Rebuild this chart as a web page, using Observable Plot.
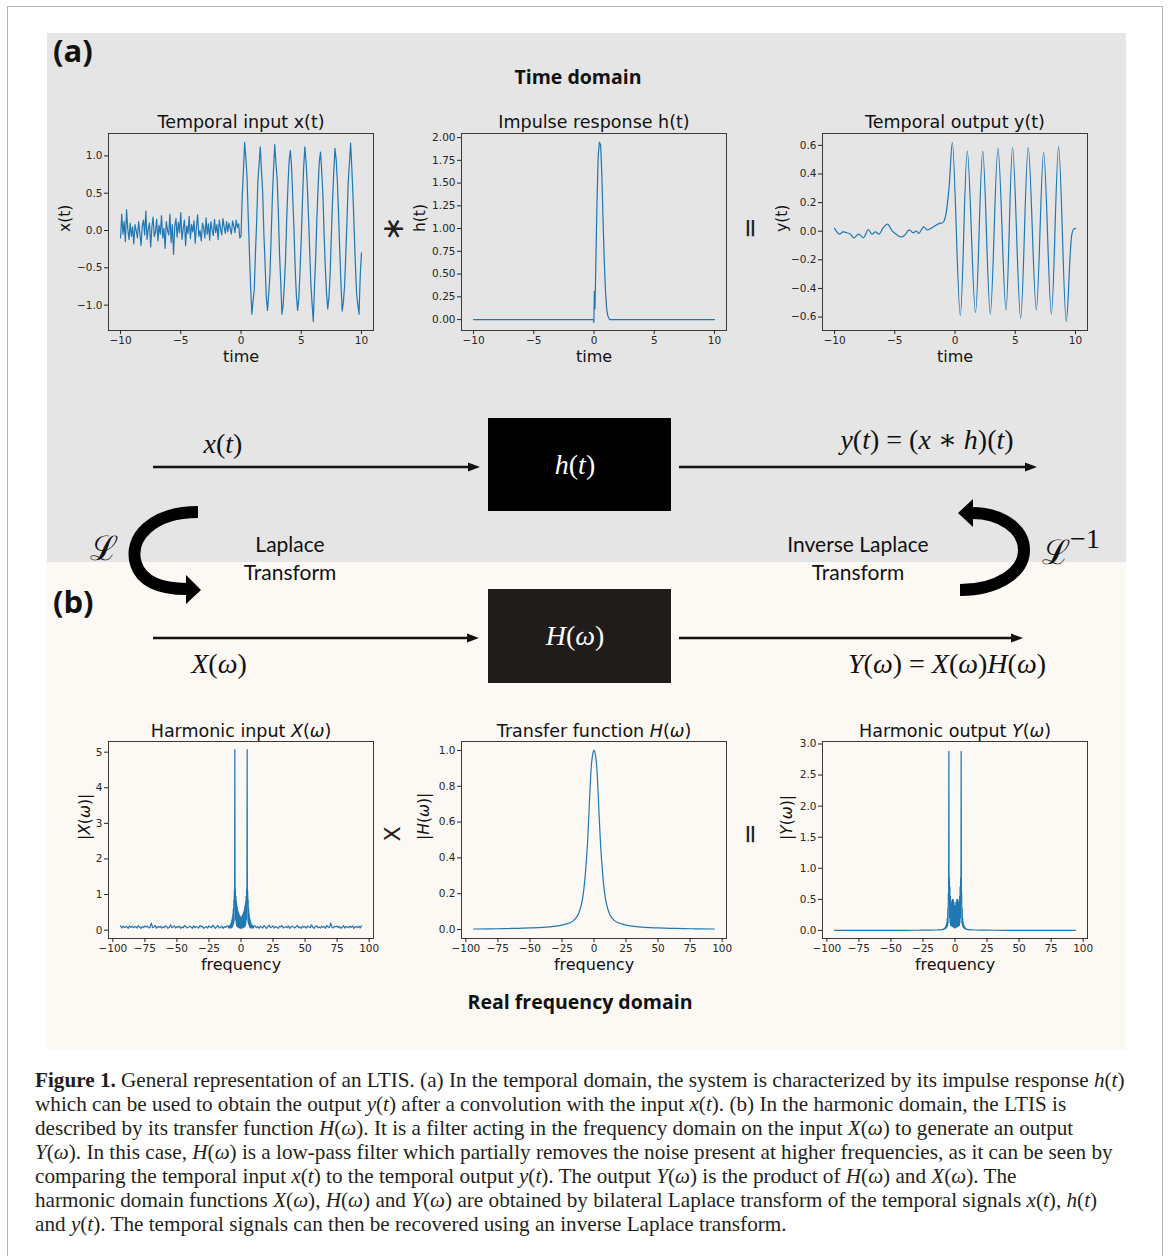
<!DOCTYPE html>
<html><head><meta charset="utf-8">
<script src="https://cdn.jsdelivr.net/npm/d3@7"></script>
<script src="https://cdn.jsdelivr.net/npm/@observablehq/plot@0.6"></script>
<style>
body{margin:0;background:#fff;}
#root{position:relative;width:1168px;height:1256px;overflow:hidden;font-family:"DejaVu Sans";color:#222;}
.lbl{position:absolute;white-space:nowrap;transform:translate(-50%,-50%);line-height:1;}
.lblL{position:absolute;white-space:nowrap;transform:translate(0,-50%);line-height:1;}
.math{font-family:"Liberation Serif","DejaVu Serif",serif;}
.math i{font-style:italic;}
.cap{position:absolute;left:35px;white-space:nowrap;transform:translate(0,-50%);font-family:"Liberation Serif",serif;color:#231f20;line-height:1;}
</style></head><body><div id="root"></div>
<script>
// ---------------- DATA ----------------
// x(t): sampled from t = -10 to 10, step 0.1 (201 samples)
const xtStart = -10, xtStep = 0.1;
const xtValues = [
 -0.10, 0.22, -0.05, 0.12, -0.15, 0.28, 0.02, -0.12, 0.10, -0.08,
 0.05, -0.18, 0.08, 0.00, -0.10, 0.12, -0.03, -0.20, 0.06, 0.14,
 -0.06, 0.26, -0.12, 0.02, 0.10, -0.22, 0.04, 0.18, -0.08, -0.02,
 0.15, -0.14, 0.07, -0.05, 0.20, -0.10, 0.03, -0.24, 0.12, 0.00,
 -0.06, 0.22, -0.16, 0.08, -0.32, 0.05, 0.16, -0.09, 0.11, -0.03,
 0.24, -0.12, 0.02, 0.14, -0.20, 0.06, -0.04, 0.19, -0.11, 0.08,
 -0.02, 0.13, -0.17, 0.05, 0.21, -0.08, 0.00, -0.14, 0.10, 0.04,
 -0.10, 0.17, -0.05, 0.09, -0.13, 0.12, 0.01, -0.07, 0.15, -0.03,
 0.08, -0.12, 0.14, 0.02, -0.06, 0.16, 0.05, -0.04, 0.12, -0.02,
 0.10, 0.03, -0.05, 0.13, 0.06, -0.03, 0.14, 0.04, 0.09, -0.10,
 -0.08, 0.45, 0.80, 1.18, 0.98, 0.72, 0.18, -0.30, -0.75, -1.12,
 -0.95, -0.80, -0.30, 0.12, 0.66, 0.88, 1.12, 0.80, 0.52, -0.05,
 -0.45, -0.90, -1.07, -0.85, -0.60, -0.10, 0.42, 0.82, 1.15, 0.90,
 0.70, 0.25, -0.32, -0.70, -1.12, -1.00, -0.72, -0.38, 0.18, 0.60,
 0.95, 1.07, 0.85, 0.42, 0.02, -0.52, -0.88, -1.07, -0.92, -0.55,
 -0.12, 0.38, 0.84, 1.12, 0.92, 0.62, 0.20, -0.25, -0.72, -0.98,
 -1.22, -0.76, -0.36, 0.16, 0.58, 0.92, 1.05, 0.80, 0.48, -0.05,
 -0.50, -0.84, -1.05, -0.90, -0.58, -0.08, 0.40, 0.78, 1.10, 0.95,
 0.66, 0.22, -0.28, -0.72, -1.08, -0.96, -0.74, -0.32, 0.14, 0.64,
 0.90, 1.17, 0.84, 0.45, 0.00, -0.48, -0.85, -1.00, -1.12, -0.60,
 -0.30
];
// h(t)
const htTimes  = [-10, -0.05, -0.01, 0.03, 0.08, 0.15, 0.25, 0.35, 0.45, 0.55, 0.65, 0.75, 0.85, 0.95, 1.05, 1.15, 1.3, 10];
const htValues = [0, 0, -0.03, 0.31, 0.12, 0.60, 1.30, 1.80, 1.95, 1.92, 1.60, 1.10, 0.65, 0.32, 0.12, 0.04, 0.0, 0];
// y(t): read at wiggles and extrema
const ytTimes  = [-10, -9.6, -9.3, -9.0, -8.7, -8.4, -8.0, -7.6, -7.2, -6.9, -6.6, -6.3, -6.0, -5.6, -5.2, -4.9, -4.5, -4.2, -3.8, -3.5, -3.2, -3.0, -2.6, -2.3, -1.8, -1.3, -1.0, -0.8, -0.5, -0.22, 0.44, 1.02, 1.70, 2.30, 2.93, 3.57, 4.23, 4.78, 5.45, 6.08, 6.75, 7.36, 8.0, 8.6, 9.24, 9.7, 9.85, 10];
const ytValues = [0.02, -0.02, -0.005, -0.01, -0.02, -0.047, -0.02, -0.045, 0.012, -0.02, -0.005, -0.02, 0.02, 0.05, 0.0, -0.02, -0.04, -0.03, 0.01, -0.01, 0.0, -0.015, 0.03, 0.01, 0.03, 0.055, 0.06, 0.10, 0.30, 0.62, -0.59, 0.56, -0.57, 0.56, -0.58, 0.58, -0.55, 0.585, -0.61, 0.585, -0.55, 0.55, -0.58, 0.59, -0.63, -0.02, 0.015, 0.02];
// |X(ω)| for ω >= 0 (magnitude spectrum of a real signal is symmetric)
const XwCenterStep = 0.2; // ω = 0 .. 10
const XwCenter = [0.33, 0.05, 0.36, 0.08, 0.40, 0.06, 0.42, 0.10, 0.46, 0.07, 0.50, 0.12, 0.55, 0.09, 0.62, 0.15, 0.70, 0.12, 0.80, 0.20, 0.95, 0.30, 1.15, 0.80, 5.07, 0.90, 1.10, 0.25, 0.85, 0.18, 0.60, 0.15, 0.45, 0.10, 0.35, 0.08, 0.28, 0.07, 0.22, 0.06, 0.18, 0.08, 0.15, 0.06, 0.13, 0.07, 0.12, 0.06, 0.11, 0.07, 0.10];
const XwTailStart = 11; // ω = 11 .. 94, step 1
const XwTail = [
 0.12,0.07,0.10,0.05,0.11,0.08,0.06,0.13,0.09,0.05,
 0.10,0.14,0.07,0.09,0.12,0.06,0.10,0.08,0.05,0.11,
 0.09,0.13,0.06,0.08,0.10,0.07,0.12,0.05,0.09,0.11,
 0.08,0.06,0.10,0.13,0.07,0.09,0.05,0.11,0.08,0.10,
 0.06,0.12,0.09,0.07,0.15,0.08,0.05,0.10,0.12,0.07,
 0.09,0.06,0.11,0.08,0.10,0.05,0.13,0.09,0.07,0.20,
 0.08,0.06,0.11,0.09,0.12,0.07,0.10,0.05,0.08,0.13,
 0.06,0.10,0.09,0.07,0.11,0.08,0.12,0.05,0.09,0.10,
 0.07,0.11,0.06,0.12];
// |H(ω)| for ω >= 0
const HwFreq = [0,1,2,3,4,5,6,7,8,9,10,12,14,16,18,20,25,30,40,50,60,70,80,94];
const HwVals = [1.0,0.98,0.92,0.80,0.64,0.49,0.38,0.29,0.22,0.17,0.135,0.09,0.065,0.05,0.041,0.035,0.025,0.019,0.012,0.009,0.007,0.005,0.004,0.003];
// |Y(ω)| for ω >= 0
const YwCenterStep = 0.2;
const YwCenter = [0.38, 0.04, 0.40, 0.06, 0.45, 0.05, 0.48, 0.08, 0.50, 0.06, 0.50, 0.09, 0.48, 0.07, 0.45, 0.10, 0.42, 0.08, 0.55, 0.12, 0.70, 0.20, 0.85, 0.50, 2.88, 0.55, 0.60, 0.12, 0.35, 0.08, 0.20, 0.06, 0.13, 0.05, 0.09, 0.04, 0.07, 0.03, 0.05, 0.03, 0.04, 0.025, 0.03, 0.02, 0.025, 0.018, 0.02, 0.015, 0.017, 0.013, 0.014];
const YwTailFreq = [11,12,14,16,20,25,30,40,50,60,70,80,94];
const YwTailVals = [0.012,0.010,0.008,0.007,0.005,0.004,0.003,0.002,0.002,0.0015,0.001,0.001,0.001];

const timeTicks = [-10,-5,0,5,10];
const freqTicks = [-100,-75,-50,-25,0,25,50,75,100];
const xtTicks = [-1.0,-0.5,0.0,0.5,1.0];
const htTicks = [0,0.25,0.5,0.75,1.0,1.25,1.5,1.75,2.0];
const ytTicks = [-0.6,-0.4,-0.2,0,0.2,0.4,0.6];
const XwTicks = [0,1,2,3,4,5];
const HwTicks = [0,0.2,0.4,0.6,0.8,1.0];
const YwTicks = [0,0.5,1.0,1.5,2.0,2.5,3.0];

// -------------- build tables --------------
const xt = xtValues.map((v,i)=>({t: xtStart + i*xtStep, v}));
const ht = htTimes.map((t,i)=>({t, v: htValues[i]}));
const yt = ytTimes.map((t,i)=>({t, v: ytValues[i]}));
function mirror(pos){ return [...pos.filter(d=>d.f>0).slice().reverse().map(d=>({f:-d.f, v:d.v})), ...pos]; }
const Xw = mirror([...XwCenter.map((v,i)=>({f: +(i*XwCenterStep).toFixed(2), v})), ...XwTail.map((v,i)=>({f: XwTailStart+i, v}))]);
const Hw = mirror(HwFreq.map((f,i)=>({f, v: HwVals[i]})));
const Yw = mirror([...YwCenter.map((v,i)=>({f: +(i*YwCenterStep).toFixed(2), v})), ...YwTailFreq.map((f,i)=>({f, v: YwTailVals[i]}))]);

// -------------- page --------------
const root = document.getElementById("root");
function div(css, html){ const d=document.createElement("div"); d.style.cssText=css; if(html!=null) d.innerHTML=html; root.appendChild(d); return d; }
function label(html, x, y, css, cls){ const d=document.createElement("div"); d.className=cls||"lbl"; d.style.left=x+"px"; d.style.top=y+"px"; d.style.cssText+=";"+(css||""); d.innerHTML=html; root.appendChild(d); return d; }

div("position:absolute;left:7px;top:6px;width:1154px;height:1260px;border:1.5px solid #b4b4b4;");
div("position:absolute;left:47px;top:33px;width:1079px;height:529px;background:#e5e5e5;");
div("position:absolute;left:47px;top:562px;width:1079px;height:488px;background:#fcf8f4;");

const ML=70, MR=20, MT=40, MB=50, FW=265, FH=197;
const italicMap = {
  "Harmonic input X(ω)": 'Harmonic input <tspan font-style="italic">X</tspan>(<tspan font-style="italic">ω</tspan>)',
  "Transfer function H(ω)": 'Transfer function <tspan font-style="italic">H</tspan>(<tspan font-style="italic">ω</tspan>)',
  "Harmonic output Y(ω)": 'Harmonic output <tspan font-style="italic">Y</tspan>(<tspan font-style="italic">ω</tspan>)',
  "|X(ω)|": '|<tspan font-style="italic">X</tspan>(<tspan font-style="italic">ω</tspan>)|',
  "|H(ω)|": '|<tspan font-style="italic">H</tspan>(<tspan font-style="italic">ω</tspan>)|',
  "|Y(ω)|": '|<tspan font-style="italic">Y</tspan>(<tspan font-style="italic">ω</tspan>)|'
};
function chart(c){
  const p = Plot.plot({
    width: ML+FW+MR, height: MT+FH+MB,
    marginLeft: ML, marginRight: MR, marginTop: MT, marginBottom: MB,
    x: {domain: c.xd}, y: {domain: c.yd},
    style: {background: "transparent", fontFamily: "DejaVu Sans", color: "#262626", overflow: "visible"},
    marks: [
      Plot.line(c.data, {x: c.x, y: "v", stroke: "#1f77b4", strokeWidth: 1.2, curve: c.curve || "linear", clip: true}),
      Plot.frame({stroke: "#3a3a3a", strokeWidth: 1}),
      Plot.axisX({ticks: c.xt, tickFormat: d3.format("d"), tickSize: 4, tickPadding: 2, fontSize: 10.5, label: null}),
      Plot.axisY({ticks: c.yt, tickFormat: c.yf, tickSize: 4, tickPadding: 2, fontSize: 10.5, label: null}),
      Plot.text([c.title], {text: d=>d, frameAnchor: "top", lineAnchor: "middle", dy: c.tdy, fontSize: 17.5, fill: "#111"}),
      Plot.text([c.xl], {text: d=>d, frameAnchor: "bottom", lineAnchor: "middle", dy: 26, fontSize: 16, fill: "#111"}),
      Plot.text([c.yl], {text: d=>d, frameAnchor: "left", lineAnchor: "middle", dx: c.ydx, rotate: -90, fontSize: 15.5, fill: "#111"})
    ]
  });
  p.querySelectorAll("text").forEach(t=>{ const k=t.textContent; if(italicMap[k]) t.innerHTML = italicMap[k]; });
  p.style.position = "absolute"; p.style.left = (c.left-ML)+"px"; p.style.top = (c.top-MT)+"px";
  root.appendChild(p);
}
chart({data: xt, x: "t", xd: [-11,11], yd: [-1.34,1.30], xt: timeTicks, yt: xtTicks, yf: d3.format(".1f"), title: "Temporal input x(t)", xl: "time", yl: "x(t)", ydx: -43, left: 108, top: 133, tdy: -11});
chart({data: ht, x: "t", xd: [-11,11], yd: [-0.12,2.045], xt: timeTicks, yt: htTicks, yf: d3.format(".2f"), title: "Impulse response h(t)", xl: "time", yl: "h(t)", ydx: -41, left: 461, top: 133, tdy: -11});
chart({data: yt, x: "t", xd: [-11,11], yd: [-0.694,0.683], xt: timeTicks, yt: ytTicks, yf: d3.format(".1f"), title: "Temporal output y(t)", xl: "time", yl: "y(t)", ydx: -40, left: 822, top: 133, tdy: -11, curve: "catmull-rom"});
chart({data: Xw, x: "f", xd: [-103.4,103.4], yd: [-0.235,5.3], xt: freqTicks, yt: XwTicks, yf: d3.format("d"), title: "Harmonic input X(ω)", xl: "frequency", yl: "|X(ω)|", ydx: -23, left: 108, top: 741, tdy: -10});
chart({data: Hw, x: "f", xd: [-103.4,103.4], yd: [-0.05,1.05], xt: freqTicks, yt: HwTicks, yf: d3.format(".1f"), title: "Transfer function H(ω)", xl: "frequency", yl: "|H(ω)|", ydx: -37, left: 461, top: 741, tdy: -10, curve: "monotone-x"});
chart({data: Yw, x: "f", xd: [-103.4,103.4], yd: [-0.13,3.04], xt: freqTicks, yt: YwTicks, yf: d3.format(".1f"), title: "Harmonic output Y(ω)", xl: "frequency", yl: "|Y(ω)|", ydx: -35, left: 822, top: 741, tdy: -10});

// operators between plots
label("∗", 393, 229, "font-size:30px;transform:translate(-50%,-50%) rotate(-90deg);");
label("=", 750, 228, "font-size:26px;transform:translate(-50%,-50%) rotate(-90deg);");
label("X", 393, 834, "font-size:22px;transform:translate(-50%,-50%) rotate(-90deg);");
label("=", 750, 834, "font-size:26px;transform:translate(-50%,-50%) rotate(-90deg);");

// panel labels and domain titles
label("(a)", 53, 50, "font-family:'Open Sans';font-weight:700;font-size:31px;color:#111;", "lblL");
label("(b)", 53, 601, "font-family:'Open Sans';font-weight:700;font-size:31px;color:#111;", "lblL");
label("Time domain", 578, 77, "font-family:'Open Sans';font-weight:700;font-size:19.5px;color:#111;");
label("Real frequency domain", 580, 1002, "font-family:'Open Sans';font-weight:700;font-size:19.5px;color:#111;");

// diagram
const svgNS = "http://www.w3.org/2000/svg";
const dg = document.createElementNS(svgNS, "svg");
dg.setAttribute("width", 1168); dg.setAttribute("height", 1256);
dg.style.cssText = "position:absolute;left:0;top:0;pointer-events:none;";
dg.innerHTML = `
 <rect x="488" y="418" width="183" height="93" fill="#000"/>
 <rect x="488" y="589" width="183" height="94" fill="#1f1c1b"/>
 <g stroke="#111" stroke-width="2.5">
  <line x1="153" y1="467" x2="470" y2="467"/><line x1="679" y1="467" x2="1027" y2="467"/>
  <line x1="153" y1="638" x2="469" y2="638"/><line x1="679" y1="638" x2="1013" y2="638"/>
 </g>
 <g fill="#111">
  <polygon points="468,462.5 480,467 468,471.5"/><polygon points="1025,462.5 1037,467 1025,471.5"/>
  <polygon points="467,633.5 479,638 467,642.5"/><polygon points="1011,633.5 1023,638 1011,642.5"/>
 </g>
 <path d="M198,512 C152,512 128,538 136,564 C142,582 162,589 187,589" fill="none" stroke="#000" stroke-width="12"/>
 <polygon points="186,575 201,590 186,604" fill="#000"/>
 <path d="M960,590 C998,590 1024,572 1024,550 C1024,528 1000,513 972,513" fill="none" stroke="#000" stroke-width="12"/>
 <polygon points="973,499 958,513 973,527" fill="#000"/>`;
root.appendChild(dg);

const mathCss = "font-size:28px;color:#111;";
label("<i>x</i>(<i>t</i>)", 223, 444, mathCss, "lbl math");
label("<i>y</i>(<i>t</i>) = (<i>x</i> ∗ <i>h</i>)(<i>t</i>)", 927, 440, mathCss, "lbl math");
label("<i>h</i>(<i>t</i>)", 575, 465, "font-size:28px;color:#fff;", "lbl math");
label("<i>H</i>(<i>ω</i>)", 575, 636, "font-size:28px;color:#fff;", "lbl math");
label("<i>X</i>(<i>ω</i>)", 219, 664, mathCss, "lbl math");
label("<i>Y</i>(<i>ω</i>) = <i>X</i>(<i>ω</i>)<i>H</i>(<i>ω</i>)", 947, 664, mathCss, "lbl math");
label("ℒ", 104, 548, "font-family:'DejaVu Serif';font-size:34px;color:#111;");
label("ℒ<span style='font-family:Liberation Serif;font-size:28px;vertical-align:0.55em;'>−1</span>", 1071, 547, "font-family:'DejaVu Serif';font-size:34px;color:#111;");
const sansCss = "font-family:Lato;font-size:21px;color:#111;";
label("Laplace", 290, 543, sansCss);
label("Transform", 290, 571, sansCss);
label("Inverse Laplace", 858, 543, sansCss);
label("Transform", 858, 571, sansCss);

// caption
const capLines = [
 '<b>Figure 1.</b> General representation of an LTIS. (a) In the temporal domain, the system is characterized by its impulse response <i>h</i>(<i>t</i>)',
 'which can be used to obtain the output <i>y</i>(<i>t</i>) after a convolution with the input <i>x</i>(<i>t</i>). (b) In the harmonic domain, the LTIS is',
 'described by its transfer function <i>H</i>(<i>ω</i>). It is a filter acting in the frequency domain on the input <i>X</i>(<i>ω</i>) to generate an output',
 '<i>Y</i>(<i>ω</i>). In this case, <i>H</i>(<i>ω</i>) is a low-pass filter which partially removes the noise present at higher frequencies, as it can be seen by',
 'comparing the temporal input <i>x</i>(<i>t</i>) to the temporal output <i>y</i>(<i>t</i>). The output <i>Y</i>(<i>ω</i>) is the product of <i>H</i>(<i>ω</i>) and <i>X</i>(<i>ω</i>). The',
 'harmonic domain functions <i>X</i>(<i>ω</i>), <i>H</i>(<i>ω</i>) and <i>Y</i>(<i>ω</i>) are obtained by bilateral Laplace transform of the temporal signals <i>x</i>(<i>t</i>), <i>h</i>(<i>t</i>)',
 'and <i>y</i>(<i>t</i>). The temporal signals can then be recovered using an inverse Laplace transform.'
];
const capEls = capLines.map((h,i)=>{ const d=document.createElement("div"); d.className="cap"; d.style.top=(1081+24*i)+"px"; d.style.fontSize="19px"; d.innerHTML=h; root.appendChild(d); return d; });
const w0 = capEls[0].getBoundingClientRect().width;
const fs = 19*1090/w0;
capEls.forEach(d=>d.style.fontSize=fs.toFixed(2)+"px");
</script></body></html>
